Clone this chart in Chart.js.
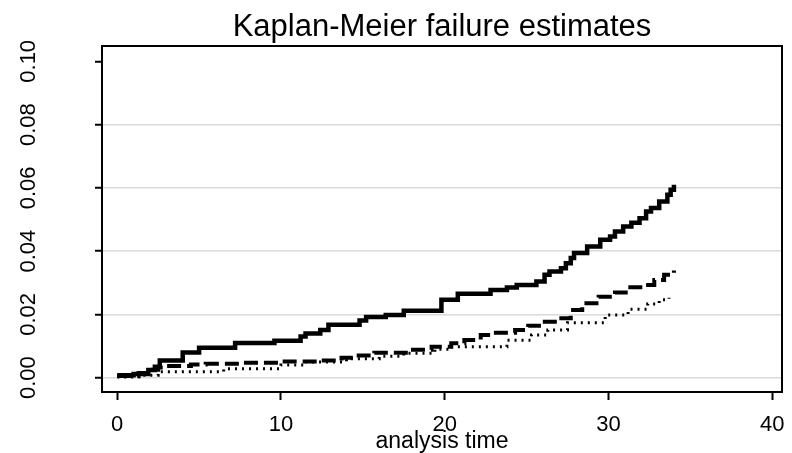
<!DOCTYPE html>
<html>
<head>
<meta charset="utf-8">
<script src="https://cdn.jsdelivr.net/npm/chart.js@4.4.0/dist/chart.umd.min.js"></script>
<style>
  html, body { margin: 0; padding: 0; background: #fff; }
</style>
</head>
<body>
<canvas id="kmChart" width="792" height="453"></canvas>
<script>
// step points: time where the estimate starts, failure estimate from there on
const solidTimes = [0, 1.0, 1.9, 2.3, 2.6, 4.0, 5.0, 7.2, 9.6, 11.2, 11.5, 12.4, 12.9, 14.8, 15.2, 16.4, 17.5, 19.8, 20.8, 22.8, 23.8, 24.4, 25.6, 26.1, 26.4, 27.1, 27.4, 27.7, 27.9, 28.7, 29.5, 30.1, 30.4, 30.9, 31.4, 31.9, 32.3, 32.6, 33.1, 33.6, 33.8, 34.0];
const solidValues = [0.0008, 0.0012, 0.0024, 0.0035, 0.0054, 0.0080, 0.0095, 0.0110, 0.0117, 0.0130, 0.0140, 0.0151, 0.0167, 0.0181, 0.0192, 0.0198, 0.0212, 0.0246, 0.0265, 0.0277, 0.0285, 0.0293, 0.0304, 0.0325, 0.0336, 0.0346, 0.0362, 0.0378, 0.0394, 0.0415, 0.0436, 0.0446, 0.0462, 0.0478, 0.0490, 0.0504, 0.0525, 0.0536, 0.0557, 0.0578, 0.0594, 0.0610];

const dashedTimes = [0, 1.3, 2.0, 2.5, 3.0, 4.5, 5.4, 7.7, 10.0, 12.2, 13.7, 14.5, 15.7, 17.9, 19.2, 20.4, 21.2, 22.2, 23.0, 24.3, 25.1, 25.9, 26.9, 27.7, 28.4, 29.4, 30.4, 31.2, 32.2, 32.8, 33.4, 34.0];
const dashedValues = [0.0005, 0.0015, 0.0025, 0.0032, 0.0037, 0.0042, 0.0044, 0.0047, 0.0051, 0.0054, 0.0063, 0.0070, 0.0079, 0.0088, 0.0098, 0.0109, 0.0119, 0.0135, 0.0142, 0.0151, 0.0164, 0.0177, 0.0188, 0.0214, 0.0235, 0.0256, 0.0269, 0.0286, 0.0293, 0.0309, 0.0325, 0.0339];

const dottedTimes = [0, 1.5, 2.5, 6.5, 10.0, 11.5, 14.0, 16.0, 17.5, 19.4, 20.4, 23.8, 25.3, 26.3, 27.5, 29.8, 31.2, 32.4, 33.1, 33.7];
const dottedValues = [0.0002, 0.0008, 0.0019, 0.0028, 0.0040, 0.0050, 0.0060, 0.0068, 0.0077, 0.0090, 0.0098, 0.0118, 0.0135, 0.0151, 0.0174, 0.0198, 0.0216, 0.0233, 0.0246, 0.0253];

const xTicks = [0, 10, 20, 30, 40];
const yTicks = [0, 0.02, 0.04, 0.06, 0.08, 0.10];
const yTickLabels = ['0.00', '0.02', '0.04', '0.06', '0.08', '0.10'];

const toPoints = (ts, vs) => ts.map((t, i) => ({ x: t, y: vs[i] }));
const FONT = "'Liberation Sans', Arial, sans-serif";

// box round the plot region
const framePlugin = {
    id: 'frame',
    afterDatasetsDraw(chart) {
        const { ctx, chartArea: a } = chart;
        ctx.save();
        ctx.strokeStyle = '#000';
        ctx.lineWidth = 2;
        ctx.strokeRect(a.left, a.top, a.right - a.left, a.bottom - a.top);
        ctx.restore();
    }
};

new Chart(document.getElementById('kmChart'), {
    type: 'line',
    data: {
        datasets: [
            {
                label: 'solid',
                data: toPoints(solidTimes, solidValues),
                stepped: 'before',
                borderColor: '#000',
                borderWidth: 4.5,
                pointRadius: 0,
                fill: false
            },
            {
                label: 'dashed',
                data: toPoints(dashedTimes, dashedValues),
                stepped: 'before',
                borderColor: '#000',
                borderWidth: 4,
                borderDash: [14, 6],
                pointRadius: 0,
                fill: false
            },
            {
                label: 'dotted',
                data: toPoints(dottedTimes, dottedValues),
                stepped: 'before',
                borderColor: '#000',
                borderWidth: 3,
                borderDash: [2, 5],
                pointRadius: 0,
                fill: false
            }
        ]
    },
    options: {
        responsive: false,
        animation: false,
        devicePixelRatio: 1,
        layout: { padding: { left: 0, right: 10, top: 0, bottom: 0 } },
        plugins: {
            legend: { display: false },
            tooltip: { enabled: false },
            title: {
                display: true,
                text: 'Kaplan-Meier failure estimates',
                fullSize: false,
                color: '#000',
                font: { family: FONT, size: 31, weight: 'normal', lineHeight: 1.2 },
                padding: { top: 8.5, bottom: 0.3 }
            }
        },
        scales: {
            x: {
                type: 'linear',
                min: -0.93,
                max: 40.6,
                afterBuildTicks: s => { s.ticks = xTicks.map(v => ({ value: v })); },
                afterFit: s => { s.height = 61; s.paddingLeft = 0; s.paddingRight = 0; },
                border: { display: false },
                grid: { drawOnChartArea: false, tickLength: 8, tickColor: '#000', tickWidth: 2 },
                ticks: {
                    color: '#000',
                    padding: 12,
                    maxRotation: 0,
                    font: { family: FONT, size: 22 },
                    callback: v => String(v)
                },
                title: {
                    display: true,
                    text: 'analysis time',
                    color: '#000',
                    font: { family: FONT, size: 23, lineHeight: 1 },
                    padding: { top: 0, bottom: 0 }
                }
            },
            y: {
                type: 'linear',
                min: -0.00452,
                max: 0.10484,
                afterBuildTicks: s => { s.ticks = yTicks.map(v => ({ value: v })); },
                afterFit: s => { s.width = 102; s.paddingTop = 0; s.paddingBottom = 0; },
                border: { display: false },
                grid: {
                    tickLength: 7,
                    tickColor: '#000',
                    tickWidth: 2,
                    lineWidth: 1.5,
                    color: c => (c.tick && c.tick.value >= 0.1 ? 'rgba(0,0,0,0)' : '#dadada')
                },
                ticks: {
                    color: '#000',
                    minRotation: 90,
                    maxRotation: 90,
                    crossAlign: 'center',
                    padding: 45,
                    font: { family: FONT, size: 22 },
                    callback: (v, i) => yTickLabels[i]
                }
            }
        }
    },
    plugins: [framePlugin]
});
</script>
</body>
</html>
